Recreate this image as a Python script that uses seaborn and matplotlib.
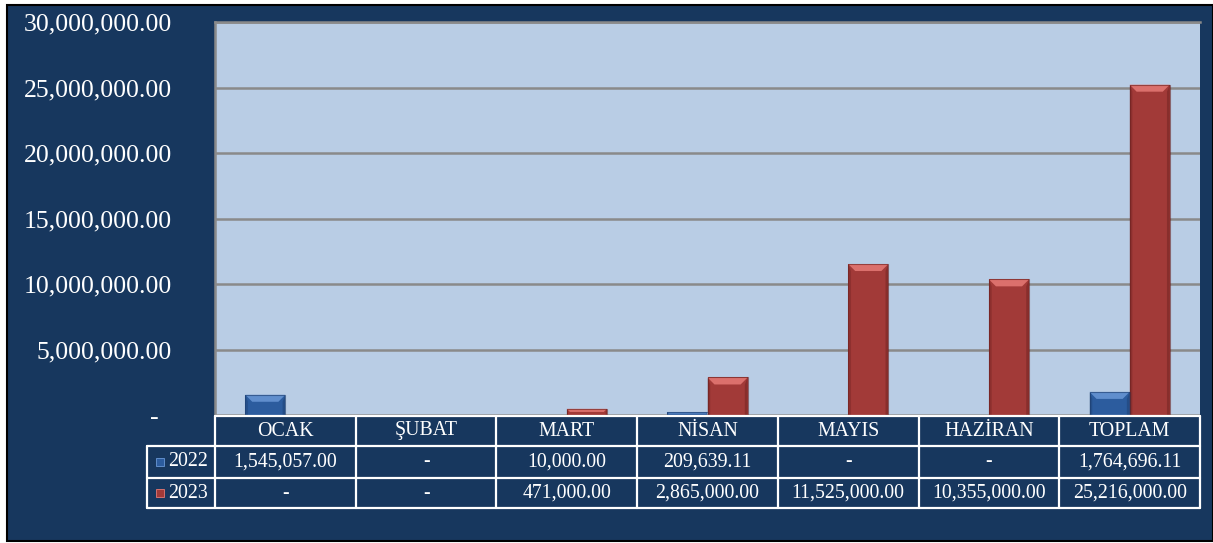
import matplotlib
matplotlib.use("Agg")
import matplotlib.pyplot as plt
import seaborn as sns
import pandas as pd
import numpy as np
from matplotlib.patches import Rectangle, Polygon
from matplotlib.lines import Line2D
from matplotlib.ticker import FixedLocator, FuncFormatter

# ---------------- data ----------------
months = ["OCAK", "ŞUBAT", "MART", "NİSAN", "MAYIS", "HAZİRAN", "TOPLAM"]
series_names = ["2022", "2023"]
values_2022 = [1545057.00, 0, 10000.00, 209639.11, 0, 0, 1764696.11]
values_2023 = [0, 0, 471000.00, 2865000.00, 11525000.00, 10355000.00, 25216000.00]
y_ticks = [0, 5000000, 10000000, 15000000, 20000000, 25000000, 30000000]

# ---------------- style ----------------
sns.set_theme(style="white")
plt.rcParams["font.family"] = ["Liberation Serif", "DejaVu Serif"]

NAVY = "#17375E"
PLOT_BG = "#B9CDE5"
GRID = "#8A8A8A"
BLUE = "#2C5C9E"
RED = "#A23A38"
BLUE_HI = "#6A98D6"
RED_HI = "#E67A76"
BLUE_DK = "#1C3C6C"
RED_DK = "#6A201F"

W, H = 1213, 543
fig = plt.figure(figsize=(W / 100, H / 100), dpi=100, facecolor="white")

def fx(x):
    return x / W

def fy(y):
    return 1 - y / H

# navy chart area with black border
fig.add_artist(Rectangle((fx(7), fy(541)), fx(1213) - fx(7), fy(5) - fy(541),
                         transform=fig.transFigure, facecolor=NAVY,
                         edgecolor="black", linewidth=1.5, zorder=0))

ax_l, ax_r, ax_t, ax_b = 215, 1200, 22, 415
ax = fig.add_axes([fx(ax_l), fy(ax_b), fx(ax_r) - fx(ax_l), fy(ax_t) - fy(ax_b)])
ax.set_facecolor(PLOT_BG)

df = pd.DataFrame({
    "month": months * 2,
    "year": [series_names[0]] * len(months) + [series_names[1]] * len(months),
    "value": values_2022 + values_2023,
})

sns.barplot(data=df, x="month", y="value", hue="year", order=months,
            hue_order=series_names, palette=[BLUE, RED], width=0.57,
            saturation=1, errorbar=None, ax=ax, legend=False, zorder=3,
            linewidth=0)

ax.set_ylim(0, 30000000)
ax.set_xlim(-0.5, len(months) - 0.5)
ax.yaxis.set_major_locator(FixedLocator(y_ticks))

def fmt(v, pos=None):
    if v == 0:
        return "-  "
    return f"{v:,.2f}"

ax.yaxis.set_major_formatter(FuncFormatter(fmt))
ax.tick_params(axis="y", labelsize=18.5, labelcolor="white", length=0, pad=31)
ax.tick_params(axis="x", length=0, labelbottom=False)
ax.set_xlabel("")
ax.set_ylabel("")
ax.grid(axis="y", color=GRID, linewidth=1.8, zorder=1)
ax.set_axisbelow(True)
for side, sp in ax.spines.items():
    sp.set_visible(side in ("left", "top"))
    sp.set_color(GRID)
    sp.set_linewidth(1.8)

# bevel effect on bars (derived from the library's bar patches)
fig.canvas.draw()
bev = 7  # pixels
for p in ax.patches:
    h = p.get_height()
    if h <= 0:
        continue
    x0, y0 = ax.transData.transform((p.get_x(), 0))
    x1, y1 = ax.transData.transform((p.get_x() + p.get_width(), h))
    hpx = y1 - y0
    if hpx < 1.5:
        continue
    fc = p.get_facecolor()
    is_blue = fc[2] > fc[0]
    hi = BLUE_HI if is_blue else RED_HI
    dk = BLUE_DK if is_blue else RED_DK
    b = min(bev, hpx / 2)
    top = Polygon([(x0, y1), (x1, y1), (x1 - b, y1 - b), (x0 + b, y1 - b)],
                  closed=True, transform=None, facecolor=hi, edgecolor="none",
                  alpha=0.85, zorder=4)
    left = Polygon([(x0, y0), (x0, y1), (x0 + b * 0.4, y1 - b), (x0 + b * 0.4, y0)],
                   closed=True, transform=None, facecolor=dk, edgecolor="none",
                   alpha=0.35, zorder=4)
    right = Polygon([(x1, y0), (x1, y1), (x1 - b * 0.4, y1 - b), (x1 - b * 0.4, y0)],
                    closed=True, transform=None, facecolor=dk, edgecolor="none",
                    alpha=0.45, zorder=4)
    for poly in (top, left, right):
        fig.add_artist(poly)
    fig.add_artist(Rectangle((x0, y0), x1 - x0, hpx, transform=None,
                             facecolor="none", edgecolor=dk, linewidth=0.8,
                             alpha=0.6, zorder=5))

# ---------------- data table ----------------
col_w = (ax_r - ax_l) / len(months)
row_y = [416, 446, 478, 508]
lbl_l = 147
lw = 1.6

def hline(x0, x1, y):
    fig.add_artist(Line2D([fx(x0), fx(x1)], [fy(y), fy(y)], color="white",
                          linewidth=lw, transform=fig.transFigure, zorder=6))

def vline(x, y0, y1):
    fig.add_artist(Line2D([fx(x), fx(x)], [fy(y0), fy(y1)], color="white",
                          linewidth=lw, transform=fig.transFigure, zorder=6))

hline(ax_l, ax_r, row_y[0])
hline(lbl_l, ax_r, row_y[1])
hline(lbl_l, ax_r, row_y[2])
hline(lbl_l, ax_r, row_y[3])
vline(lbl_l, row_y[1], row_y[3])
for i in range(len(months) + 1):
    vline(ax_l + i * col_w, row_y[0], row_y[3])

tfs = 14.3
for i, m in enumerate(months):
    cx = ax_l + (i + 0.5) * col_w
    fig.text(fx(cx), fy((row_y[0] + row_y[1]) / 2), m, color="white",
             fontsize=tfs, ha="center", va="center")
    for r, vals in enumerate([values_2022, values_2023]):
        v = vals[i]
        s = "-" if v == 0 else f"{v:,.2f}"
        fig.text(fx(cx), fy((row_y[r + 1] + row_y[r + 2]) / 2), s,
                 color="white", fontsize=tfs, ha="center", va="center")

for r, (name, col, hi) in enumerate(zip(series_names, [BLUE, RED], [BLUE_HI, RED_HI])):
    cy = (row_y[r + 1] + row_y[r + 2]) / 2
    fig.add_artist(Rectangle((fx(156), fy(cy + 4)), fx(8), fy(0) - fy(8),
                             transform=fig.transFigure, facecolor=col,
                             edgecolor=hi, linewidth=0.6, zorder=6))
    fig.text(fx(168), fy(cy), name, color="white", fontsize=tfs,
             ha="left", va="center")

fig.savefig("out.png", dpi=100, facecolor=fig.get_facecolor())
